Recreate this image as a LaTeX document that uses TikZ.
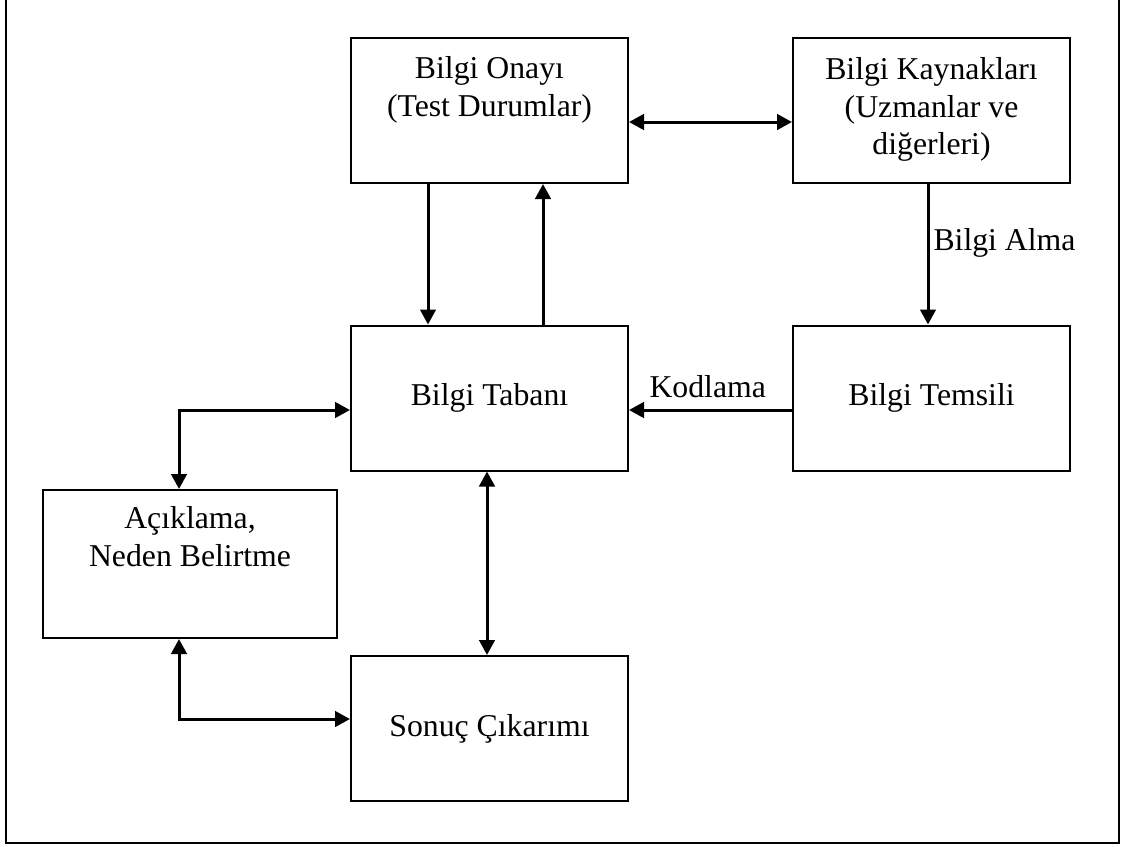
\documentclass[tikz,border=0pt]{standalone}
\usepackage{fontspec}
\setmainfont{Liberation Serif}
\usetikzlibrary{arrows.meta, positioning, calc}
\tikzset{
   mybox/.style={draw, line width=.8pt, minimum width=110.8pt, minimum height=58pt, inner sep=0pt},
   mywide/.style={mybox, minimum width=117.6pt, minimum height=59.2pt},
   mytext/.style={inner sep=0pt, align=center, font=\fontsize{12.7}{15}\selectfont},
   myarrow/.style={line width=1.2pt, -{Triangle[length=6pt,width=6.2pt]}},
   mydouble/.style={line width=1.2pt, {Triangle[length=6pt,width=6.2pt]}-{Triangle[length=6pt,width=6.2pt]}}
}

\begin{document}
\begin{tikzpicture}[x=0.4pt, y=-0.4pt]
      \useasboundingbox (0,0) rectangle (1128,847);
      \draw[line width=1pt] (6,-4) rectangle (1119,843);
      % boxes
      \node[mybox] (onay) at (489.5,110.5) {};
      \node[mybox] (kaynak) at (931.5,110.5) {};
      \node[mybox] (taban) at (489.5,398) {};
      \node[mybox] (temsil) at (931.5,398) {};
      \node[mywide] (aciklama) at (190,564) {};
      \node[mybox] (sonuc) at (489.5,728.5) {};
      % texts
      \node[mytext, below=7.6pt of onay.north] (onaytext) {Bilgi Onayı\\(Test Durumlar)};
      \node[mytext, below=8pt of kaynak.north] (kaynaktext) {Bilgi Kaynakları\\(Uzmanlar ve\\diğerleri)};
      \node[mytext, below=6.8pt of aciklama.north] (aciklamatext) {Açıklama,\\Neden Belirtme};
      \node[mytext, above=0pt of taban.center, anchor=center] (tabantext) {Bilgi Tabanı};
      \node[mytext, above=0pt of temsil.center, anchor=center] (temsiltext) {Bilgi Temsili};
      \node[mytext, above=0pt of sonuc.center, anchor=center] (sonuctext) {Sonuç Çıkarımı};
      \node[mytext, anchor=base west] (alma) at (933,250) {Bilgi Alma};
      \node[mytext, anchor=base west] (kodlama) at (649,397) {Kodlama};
      % connectors
      \draw[mydouble] ([yshift=-4.6pt]onay.east) -- ([yshift=-4.6pt]kaynak.west);
      \draw[myarrow] ([xshift=-24.6pt]onay.south) -- ([xshift=-24.6pt]taban.north);
      \draw[myarrow] ([xshift=21.4pt]taban.north) -- ([xshift=21.4pt]onay.south);
      \draw[myarrow] ([xshift=-1.4pt]kaynak.south) -- ([xshift=-1.4pt]temsil.north);
      \draw[myarrow] ([yshift=-4.8pt]temsil.west) -- ([yshift=-4.8pt]taban.east);
      \draw[mydouble] ([yshift=-4.8pt]taban.west) -| ([xshift=-4.4pt]aciklama.north);
      \draw[mydouble] ([xshift=-4.4pt]aciklama.south) |- ([yshift=3.8pt]sonuc.west);
      \draw[mydouble] ([xshift=-1pt]taban.south) -- ([xshift=-1pt]sonuc.north);
\end{tikzpicture}
\end{document}
